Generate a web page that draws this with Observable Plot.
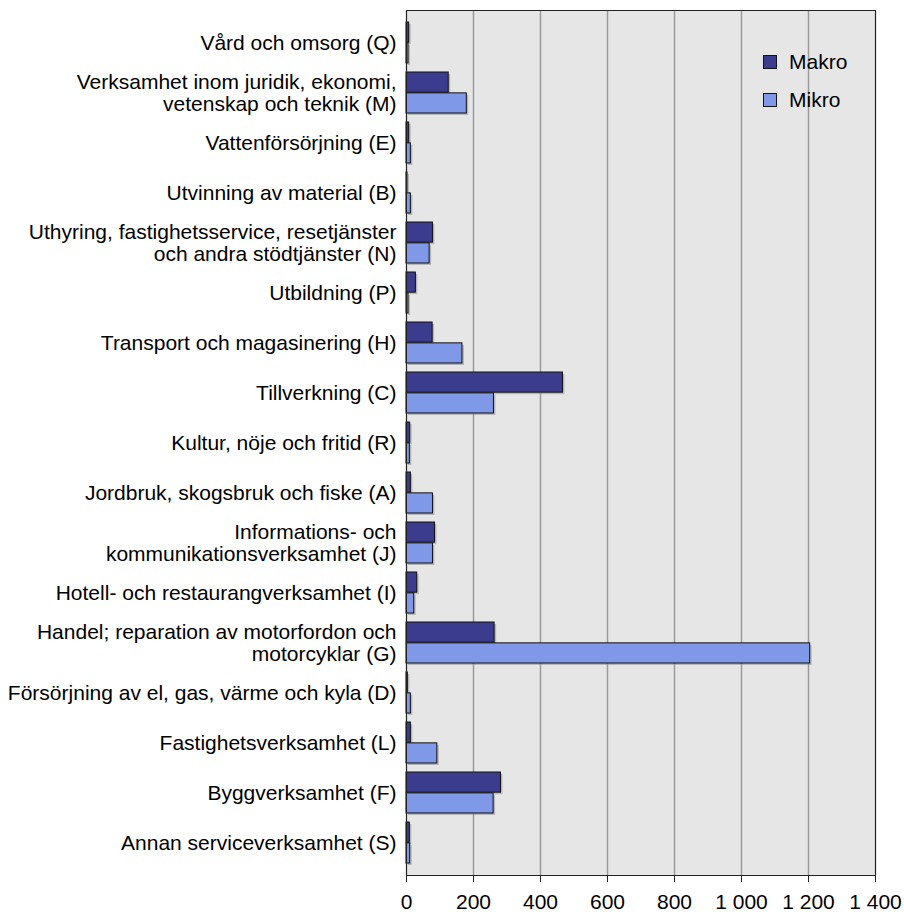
<!DOCTYPE html>
<html>
<head>
<meta charset="utf-8">
<script src="https://cdn.jsdelivr.net/npm/d3@7"></script>
<script src="https://cdn.jsdelivr.net/npm/@observablehq/plot@0.6"></script>
<style>
  body { margin: 0; background: white; }
  #wrap { position: relative; width: 904px; height: 914px; font-family: "Liberation Sans", Arial, sans-serif; }
  .legend { position: absolute; left: 763px; font-size: 21px; color: #000; display: flex; align-items: center; line-height: 24px; }
  .legend span.sw { width: 12px; height: 12px; border: 1px solid #111; margin-right: 12px; display: inline-block; }
</style>
</head>
<body>
<div id="wrap"></div>
<script>
const categories = [
  "Vård och omsorg (Q)",
  "Verksamhet inom juridik, ekonomi,\nvetenskap och teknik (M)",
  "Vattenförsörjning (E)",
  "Utvinning av material (B)",
  "Uthyring, fastighetsservice, resetjänster\noch andra stödtjänster (N)",
  "Utbildning (P)",
  "Transport och magasinering (H)",
  "Tillverkning (C)",
  "Kultur, nöje och fritid (R)",
  "Jordbruk, skogsbruk och fiske (A)",
  "Informations- och\nkommunikationsverksamhet (J)",
  "Hotell- och restaurangverksamhet (I)",
  "Handel; reparation av motorfordon och\nmotorcyklar (G)",
  "Försörjning av el, gas, värme och kyla (D)",
  "Fastighetsverksamhet (L)",
  "Byggverksamhet (F)",
  "Annan serviceverksamhet (S)"
];
const makro = [8, 126, 8, 3, 79, 28, 78, 467, 11, 13, 85, 32, 263, 4, 13, 282, 10];
const mikro = [6, 180, 13, 13, 69, 6, 167, 261, 10, 79, 79, 23, 1205, 13, 92, 260, 11];
const seriesNames = ["Makro", "Mikro"];
const seriesColors = ["#3c3c8e", "#8098e8"];
const xTicks = [0, 200, 400, 600, 800, 1000, 1200, 1400];

const W = 904, H = 914, mT = 10, mB = 39, mL = 406, mR = 29;
const padIn = 0.18, padOut = 0.09;
const plotH = H - mT - mB;
const step = plotH / (categories.length - padIn + 2 * padOut);
const half = step * (1 - padIn) / 2;

const data = categories.map((c, i) => ({cat: c, makro: makro[i], mikro: mikro[i]}));
const fmt = d => d3.format(",")(d).replace(/,/g, " ");

const chart = Plot.plot({
  width: W, height: H,
  marginTop: mT, marginBottom: mB, marginLeft: mL, marginRight: mR,
  style: {fontFamily: "'Liberation Sans', Arial, sans-serif", fontSize: "21px", color: "#000", background: "white", overflow: "visible"},
  x: {domain: [0, 1400], label: null},
  y: {domain: categories, paddingInner: padIn, paddingOuter: padOut, label: null},
  marks: [
    Plot.frame({fill: "#e6e6e6", stroke: null}),
    Plot.gridX(xTicks, {stroke: "#9a9a9a", strokeOpacity: 1, strokeWidth: 1.5}),
    Plot.barX(data, {x: "makro", y: "cat", insetBottom: half, dx: 2, dy: 2, fill: "#888", fillOpacity: 0.5}),
    Plot.barX(data, {x: "mikro", y: "cat", insetTop: half, dx: 2, dy: 2, fill: "#888", fillOpacity: 0.5}),
    Plot.barX(data, {x: "makro", y: "cat", insetBottom: half, fill: seriesColors[0], stroke: "#111", strokeWidth: 1}),
    Plot.barX(data, {x: "mikro", y: "cat", insetTop: half, fill: seriesColors[1], stroke: "#111", strokeWidth: 1}),
    Plot.frame({stroke: "#222", strokeWidth: 1}),
    Plot.axisY({tickSize: 0, tickPadding: 10, lineHeight: 1.05, fontSize: 21}),
    Plot.axisX(xTicks, {tickSize: 7, tickPadding: 12, tickFormat: fmt, fontSize: 21, stroke: "#222"})
  ]
});

const wrap = document.getElementById("wrap");
wrap.appendChild(chart);
const legendY = [62, 100];
seriesNames.forEach((name, i) => {
  const el = document.createElement("div");
  el.className = "legend";
  el.style.top = (legendY[i] - 12) + "px";
  el.innerHTML = `<span class="sw" style="background:${seriesColors[i]}"></span>${name}`;
  wrap.appendChild(el);
});
</script>
</body>
</html>
